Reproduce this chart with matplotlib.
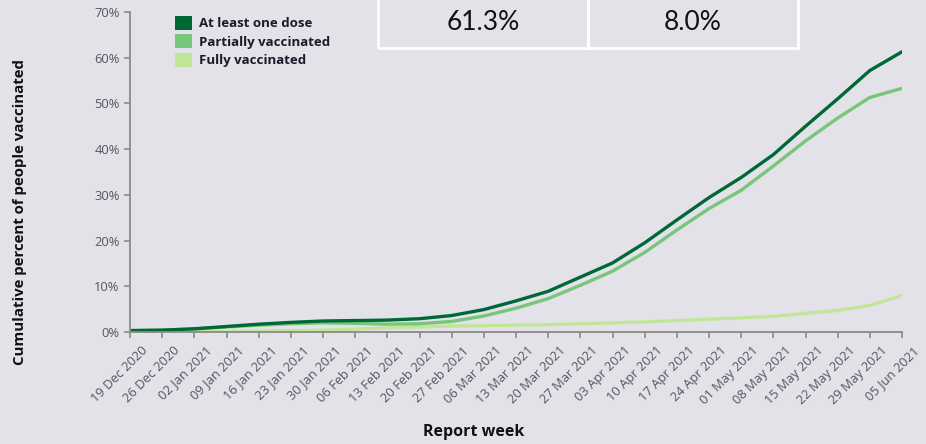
import matplotlib.pyplot as plt
from matplotlib.patches import Patch, Rectangle
from matplotlib.transforms import ScaledTranslation

# weekly report dates
weeks = ["19 Dec 2020", "26 Dec 2020", "02 Jan 2021", "09 Jan 2021", "16 Jan 2021",
         "23 Jan 2021", "30 Jan 2021", "06 Feb 2021", "13 Feb 2021", "20 Feb 2021",
         "27 Feb 2021", "06 Mar 2021", "13 Mar 2021", "20 Mar 2021", "27 Mar 2021",
         "03 Apr 2021", "10 Apr 2021", "17 Apr 2021", "24 Apr 2021", "01 May 2021",
         "08 May 2021", "15 May 2021", "22 May 2021", "29 May 2021", "05 Jun 2021"]

at_least_one = [0.3, 0.4, 0.7, 1.2, 1.7, 2.1, 2.4, 2.5, 2.6, 2.9, 3.6, 4.9, 6.8,
                8.9, 12.0, 15.1, 19.5, 24.5, 29.4, 33.8, 38.8, 45.0, 51.0, 57.2, 61.3]
partially = [0.3, 0.4, 0.65, 1.1, 1.5, 1.8, 2.0, 1.9, 1.7, 1.8, 2.3, 3.5, 5.2,
             7.3, 10.2, 13.3, 17.4, 22.3, 27.0, 31.0, 36.3, 41.8, 46.8, 51.3, 53.3]
fully = [0.0, 0.0, 0.05, 0.1, 0.2, 0.3, 0.4, 0.6, 0.9, 1.1, 1.3, 1.4, 1.5,
         1.6, 1.8, 2.0, 2.2, 2.5, 2.8, 3.1, 3.4, 4.1, 4.7, 5.8, 8.0]

summary = ["61.3%", "8.0%"]

c_dark = "#006837"
c_mid = "#78c679"
c_light = "#c2e699"
bg = "#e3e2e8"

W, H = 926, 444
fig = plt.figure(figsize=(9.26, 4.44), dpi=100, facecolor=bg)
ax = fig.add_axes([0.1404, 0.2523, 0.8337, 0.7207], facecolor=bg)

x = list(range(len(weeks)))
ax.plot(x, fully, color=c_light, lw=2.4, solid_capstyle="round")
ax.plot(x, partially, color=c_mid, lw=2.4, solid_capstyle="round")
ax.plot(x, at_least_one, color=c_dark, lw=2.4, solid_capstyle="round")

ax.set_xlim(0, len(weeks) - 1)
ax.set_ylim(0, 70)
ax.set_yticks(range(0, 71, 10))
ax.set_yticklabels([f"{v}%" for v in range(0, 71, 10)])
ax.set_xticks(x)
ax.set_xticklabels(weeks, rotation=45, ha="right", rotation_mode="anchor")

for s in ["top", "right"]:
    ax.spines[s].set_visible(False)
for s in ["left", "bottom"]:
    ax.spines[s].set_color("#8a8a8a")
    ax.spines[s].set_linewidth(1.3)
ax.tick_params(colors="#8a8a8a", length=4, width=1.2)
ax.tick_params(axis="x", pad=4)

# nudge the rotated date labels to the right like the original
shift = ScaledTranslation(0.11, -0.01, fig.dpi_scale_trans)
for lab in ax.get_xticklabels():
    lab.set_transform(lab.get_transform() + shift)
for lab in ax.get_xticklabels() + ax.get_yticklabels():
    lab.set_color("#55555f")
    lab.set_fontsize(9.3)
    lab.set_family("Open Sans")

fig.text(474 / W, 1 - 432 / H, "Report week", ha="center", va="center",
         fontsize=11.5, fontweight="bold", family="Open Sans", color="#111111")
fig.text(20 / W, 1 - 212 / H, "Cumulative percent of people vaccinated",
         ha="center", va="center", rotation=90, fontsize=10.8,
         fontweight="bold", family="Open Sans", color="#111111")

handles = [Patch(facecolor=c_dark, label="At least one dose"),
           Patch(facecolor=c_mid, label="Partially vaccinated"),
           Patch(facecolor=c_light, label="Fully vaccinated")]
leg = ax.legend(handles=handles, loc="upper left", bbox_to_anchor=(0.043, 1.025),
                frameon=False, handlelength=1.25, handleheight=1.25, handletextpad=0.55,
                labelspacing=0.3, prop={"family": "Open Sans", "weight": "bold", "size": 9.5})
for t in leg.get_texts():
    t.set_color("#1a1a2a")

# summary boxes at the top
for i, txt in enumerate(summary):
    x0 = 378 + i * 210
    fig.add_artist(Rectangle((x0 / W, 1 - 48 / H), 210 / W, 60 / H,
                             transform=fig.transFigure, facecolor="none",
                             edgecolor="white", lw=2))
    fig.text((x0 + 105) / W, 1 - 23 / H, txt, ha="center", va="center",
             fontsize=19, family="Lato", color="#111111")

fig.savefig("out.png", dpi=100, facecolor=bg)
